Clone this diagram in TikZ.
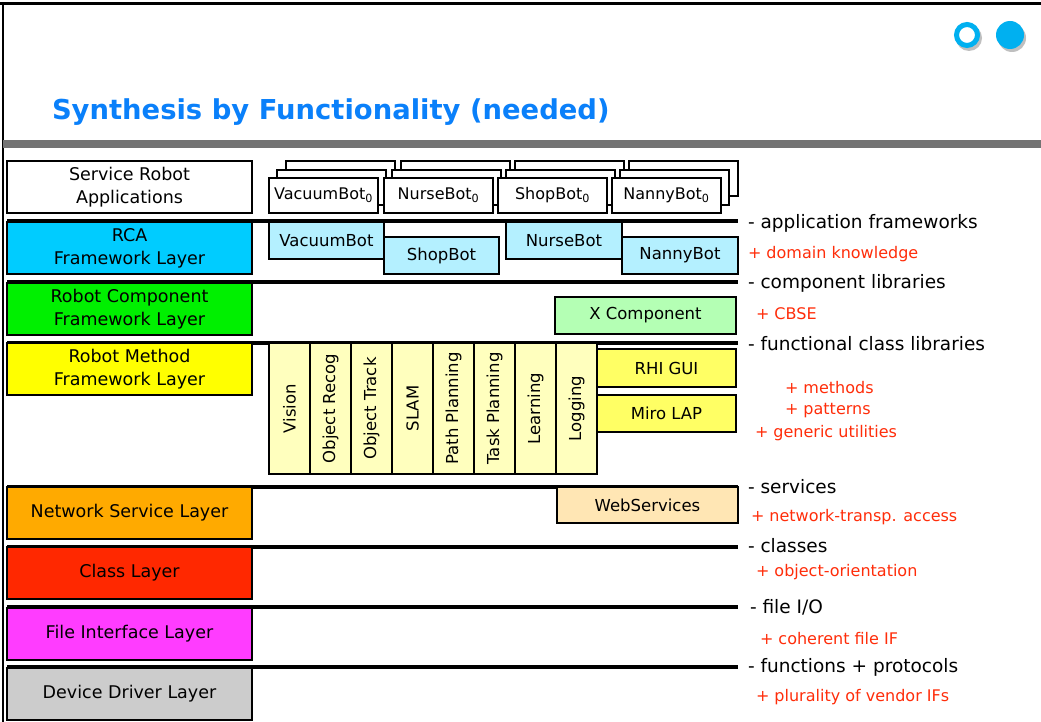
\documentclass[tikz,border=0pt]{standalone}
\usepackage{fontspec}
\setmainfont{DejaVu Sans}
\definecolor{titleblue}{RGB}{10,128,250}
\definecolor{dotblue}{RGB}{0,176,240}
\definecolor{notered}{RGB}{255,45,10}
\definecolor{barGray}{RGB}{115,115,115}
\definecolor{rcaCyan}{RGB}{0,204,255}
\definecolor{rcaLight}{RGB}{180,240,255}
\definecolor{compGreen}{RGB}{0,240,0}
\definecolor{compLight}{RGB}{180,255,180}
\definecolor{methYellow}{RGB}{255,255,0}
\definecolor{methLight}{RGB}{255,255,190}
\definecolor{methMid}{RGB}{255,255,100}
\definecolor{netOrange}{RGB}{255,170,0}
\definecolor{netLight}{RGB}{255,230,180}
\definecolor{classRed}{RGB}{255,40,0}
\definecolor{fileMagenta}{RGB}{255,60,255}
\definecolor{drvGray}{RGB}{204,204,204}
\begin{document}
\begin{tikzpicture}[x=1pt,y=-1pt,
  every node/.style={inner sep=0pt, outer sep=0pt},
  layer/.style={draw=black, line width=1.1pt, anchor=north west,
    minimum width=245pt, minimum height=52pt, align=center,
    font=\fontsize{17.5}{23}\selectfont},
  appbox/.style={draw=black, line width=1.1pt, fill=white, anchor=north west,
    minimum width=109pt, minimum height=35pt, font=\fontsize{16}{20}\selectfont},
  subbox/.style={draw=black, line width=1.1pt, anchor=north west,
    font=\fontsize{16.5}{20}\selectfont},
  colbox/.style={draw=black, line width=1.1pt, fill=methLight, anchor=north west,
    minimum width=41pt, minimum height=131pt},
  sepline/.style={line width=3.2pt, black},
  blacknote/.style={anchor=west, font=\fontsize{18.5}{20}\selectfont},
  rednote/.style={anchor=west, text=notered, font=\fontsize{16}{20}\selectfont},
]
\useasboundingbox (0,0) rectangle (1041,722);

% frame and header
\fill[white] (0,0) rectangle (1041,722);
\draw[line width=3pt] (0,3.5) -- (1041,3.5);
\draw[line width=2pt] (3,3) -- (3,722);
\fill[barGray] (3,140) rectangle (1041,148);
\node[anchor=west, text=titleblue, font=\fontsize{27.4}{32}\selectfont\bfseries]
  (title) at (52,112) {Synthesis by Functionality (needed)};

% bullet dots
\fill[black!25] (969,38) circle (13);
\fill[black!25] (1012,38) circle (14);
\draw[dotblue, line width=5pt, fill=white] (967,35) circle (10.5);
\fill[dotblue] (1010,35) circle (14);

% layer separators
\foreach \yy in {221,282,343,487,547,607,667}
  \draw[sepline] (7,\yy) -- (738,\yy);

% layers
\node[layer, fill=white]       (app)  at (7,161) {Service Robot\\Applications};
\node[layer, fill=rcaCyan]     (rca)  at (7,222) {RCA\\Framework Layer};
\node[layer, fill=compGreen]   (comp) at (7,283) {Robot Component\\Framework Layer};
\node[layer, fill=methYellow]  (meth) at (7,343) {Robot Method\\Framework Layer};
\node[layer, fill=netOrange]   (net)  at (7,487) {Network Service Layer};
\node[layer, fill=classRed]    (cls)  at (7,547) {Class Layer};
\node[layer, fill=fileMagenta] (file) at (7,608) {File Interface Layer};
\node[layer, fill=drvGray]     (drv)  at (7,668) {Device Driver Layer};

% application instances (stacked copies)
\foreach \x/\name/\lbl in {269/vac/VacuumBot,384/nur/NurseBot,498/shop/ShopBot,612/nan/NannyBot}{
  \node[appbox] (\name c) at (\x+17,161) {};
  \node[appbox] (\name b) at (\x+8,170) {};
  \node[appbox] (\name a) at (\x,178) {\lbl\textsubscript{0}};
}

% RCA frameworks
\node[subbox, fill=rcaLight, minimum width=115pt, minimum height=37pt] (vacf)  at (269,222) {VacuumBot};
\node[subbox, fill=rcaLight, minimum width=115pt, minimum height=37pt] (shopf) at (384,237) {ShopBot};
\node[subbox, fill=rcaLight, minimum width=116pt, minimum height=37pt] (nurf)  at (506,222) {NurseBot};
\node[subbox, fill=rcaLight, minimum width=116pt, minimum height=37pt] (nanf)  at (622,237) {NannyBot};

% component
\node[subbox, fill=compLight, minimum width=181pt, minimum height=37pt] (xcomp) at (555,297) {X Component};

% method columns
\foreach \i/\lbl in {0/Vision,1/Object Recog,2/Object Track,3/SLAM,4/Path Planning,5/Task Planning,6/Learning,7/Logging}{
  \node[colbox] (col\i) at (269+41*\i,343) {};
  \node[rotate=90, font=\fontsize{16.5}{20}\selectfont] (colt\i) at (col\i.center) {\lbl};
}
\node[subbox, fill=methMid, minimum width=139pt, minimum height=38pt] (rhi)  at (597,349) {RHI GUI};
\node[subbox, fill=methMid, minimum width=139pt, minimum height=37pt] (miro) at (597,395) {Miro LAP};

% network services
\node[subbox, fill=netLight, minimum width=181pt, minimum height=36pt] (web) at (557,487) {WebServices};

% annotations
\node[blacknote] (n1) at (748,223) {- application frameworks};
\node[rednote]   (r1) at (748,254) {+ domain knowledge};
\node[blacknote] (n2) at (748,283) {- component libraries};
\node[rednote]   (r2) at (756,314) {+ CBSE};
\node[blacknote] (n3) at (748,344) {- functional class libraries};
\node[rednote]   (r3) at (785,388) {+ methods};
\node[rednote]   (r4) at (785,411) {+ patterns};
\node[rednote]   (r5) at (755,433) {+ generic utilities};
\node[blacknote] (n4) at (748,487) {- services};
\node[rednote]   (r6) at (751,517) {+ network-transp. access};
\node[blacknote] (n5) at (748,546) {- classes};
\node[rednote]   (r7) at (756,572) {+ object-orientation};
\node[blacknote] (n6) at (750,607) {- file I/O};
\node[rednote]   (r8) at (760,639) {+ coherent file IF};
\node[blacknote] (n7) at (748,667) {- functions + protocols};
\node[rednote]   (r9) at (756,697) {+ plurality of vendor IFs};
\end{tikzpicture}
\end{document}
